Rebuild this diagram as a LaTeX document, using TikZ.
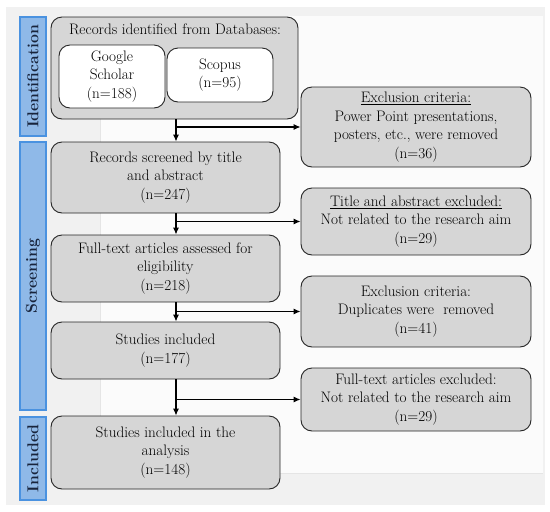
\documentclass[tikz,border=0pt]{standalone}
\usetikzlibrary{arrows.meta}
\definecolor{boxgrey}{HTML}{D6D6D6}
\definecolor{barfill}{HTML}{8FB9E8}
\definecolor{barline}{HTML}{4A92E0}
\definecolor{bartext}{HTML}{18243C}
\definecolor{bgouter}{HTML}{F1F1F1}
\definecolor{bginner}{HTML}{FBFBFB}
\newcommand{\fs}{\fontsize{15.2}{18.6}\selectfont}
\newcommand{\fb}{\fontsize{15.8}{19}\selectfont\bfseries}
\begin{document}
\begin{tikzpicture}[x=1pt,y=-1pt,
  box/.style={draw=black!85, fill=boxgrey, rounded corners=11pt, line width=0.9pt, align=center, font=\fs, inner sep=2pt},
  wbox/.style={box, fill=white},
  bar/.style={draw=barline, fill=barfill, line width=1.1pt, font=\fb, text=bartext, rotate=90, inner sep=0pt},
  arr/.style={-{Latex[length=7pt,width=6pt]}, line width=1.1pt, draw=black}]
\useasboundingbox (0,0) rectangle (550,512);
\fill[bgouter] (6,7) rectangle (545,505);
\fill[bginner] (100,16) rectangle (543,473);
\draw[black!10, line width=0.6pt] (100,119) -- (100,473) -- (543,473);
% side bars
\node[bar, minimum width=119pt, minimum height=26pt] (bid) at (33,76.5) {Identification};
\node[bar, minimum width=268pt, minimum height=26pt] (bsc) at (33,276) {Screening};
\node[bar, minimum width=83pt, minimum height=26pt] (bin) at (33,458.5) {Included};
% identification
\node[box, minimum width=247pt, minimum height=102pt] (rec) at (174.5,68) {};
\node[font=\fs, inner sep=0pt] (rect) at (175,29) {Records identified from Databases:};
\node[wbox, minimum width=106pt, minimum height=63pt] (gs) at (112,76.5) {Google\\Scholar\\(n=188)};
\node[wbox, minimum width=106pt, minimum height=54pt] (sc) at (220,75) {Scopus\\(n=95)};
% left column
\node[box, minimum width=229pt, minimum height=71pt] (scr) at (165.5,177.5) {Records screened by title\\and abstract\\(n=247)};
\node[box, minimum width=229pt, minimum height=67pt] (ft) at (165.5,268.5) {Full-text articles assessed for\\eligibility\\(n=218)};
\node[box, minimum width=229pt, minimum height=57pt] (st) at (165.5,350.5) {Studies included\\(n=177)};
\node[box, minimum width=229pt, minimum height=73pt] (an) at (165.5,452.5) {Studies included in the\\analysis\\(n=148)};
% right column
\node[box, minimum width=230pt, minimum height=80pt] (ex1) at (416,127) {\underline{Exclusion criteria:}\\ Power Point presentations,\\posters, etc., were removed\\(n=36)};
\node[box, minimum width=230pt, minimum height=67pt] (ex2) at (416,221.5) {\underline{Title and abstract excluded:}\\Not related to the research aim\\(n=29)};
\node[box, minimum width=230pt, minimum height=71pt] (ex3) at (416,311.5) {Exclusion criteria:\\Duplicates were\ \ removed\\(n=41)};
\node[box, minimum width=230pt, minimum height=63pt] (ex4) at (416,399.5) {Full-text articles excluded:\\Not related to the research aim\\(n=29)};
% trunk
\coordinate (t) at (176,0);
\draw[arr] (rec.south -| t) -- (scr.north -| t);
\draw[arr] (scr.south -| t) -- (ft.north -| t);
\draw[arr] (ft.south -| t) -- (st.north -| t);
\draw[arr] (st.south -| t) -- (an.north -| t);
\draw[arr] (ex1.west -| t) -- (ex1.west);
\draw[arr] (ex2.west -| t) -- (ex2.west);
\draw[arr] (ex3.west -| t) -- (ex3.west);
\draw[arr] (ex4.west -| t) -- (ex4.west);
\end{tikzpicture}
\end{document}
